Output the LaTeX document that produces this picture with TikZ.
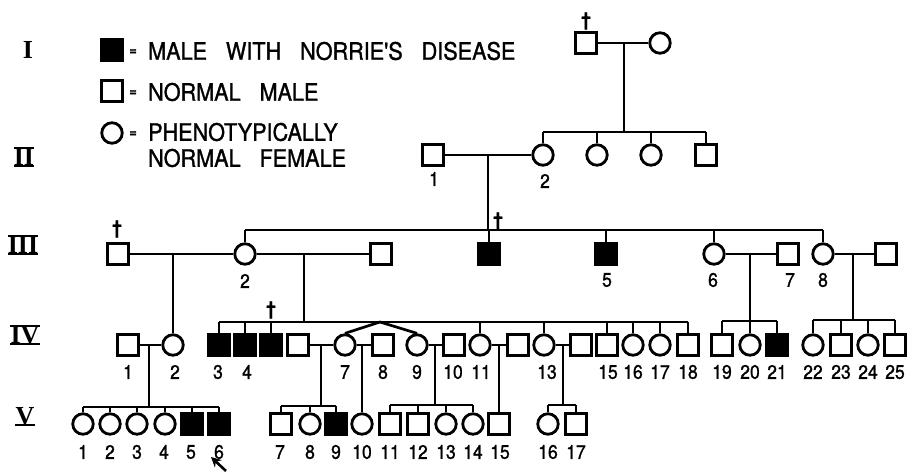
\documentclass[tikz,border=0pt]{standalone}
\usepackage{fontspec}
\setmainfont{TeX Gyre Heros}
\newfontfamily\letr{TeX Gyre Heros}[FakeStretch=0.9,FakeBold=1.2]
\newfontfamily\romn{Liberation Serif}
\usetikzlibrary{arrows.meta}
\begin{document}
\begin{tikzpicture}[x=1pt,y=-1pt,
  ln/.style={line width=2.7pt},
  bar/.style={line width=2.4pt},
  male/.style={draw,rectangle,line width=2.8pt,minimum size=20.5pt,inner sep=0pt},
  aff/.style={male,fill=black},
  fem/.style={draw,circle,line width=2.8pt,minimum size=20.5pt,inner sep=0pt},
  lab/.style={font=\letr\fontsize{19.5}{19.5}\selectfont,inner sep=0pt},
  leg/.style={font={\letr\fontsize{24}{28}\selectfont\spaceskip=19pt plus 2pt},inner sep=0pt,anchor=west},
  eq/.style={font=\letr\bfseries\fontsize{14}{14}\selectfont,inner sep=0pt},
  gen/.style={font=\romn\bfseries\fontsize{26}{26}\selectfont,inner sep=0pt},
  dag/.style={font=\letr\bfseries\fontsize{19}{19}\selectfont,inner sep=0pt}]
\fill[white] (0,0) rectangle (915,471);
\useasboundingbox (0,0) rectangle (915,471);

% generation numerals
\node[gen] (gI) at (28,50) {I};
\node[gen] (gII) at (24,157) {II};
\node[gen] (gIII) at (23,245) {III};
\node[gen] (gIV) at (25,335) {IV};
\node[gen] (gV) at (25,416) {V};
\foreach \g in {gII,gIII,gIV} {
  \draw[bar] (\g.north west) -- (\g.north east);
  \draw[bar] (\g.south west) -- (\g.south east);
}
\draw[bar] (gV.south west) -- (gV.south east);

% legend
\node[aff] (k1) at (112,50) {};
\node[eq] (e1) at (133,52) {=};
\node[leg] (t1) at (148,51) {MALE WITH NORRIE'S DISEASE};
\node[male] (k2) at (112,91) {};
\node[eq] (e2) at (133,93) {=};
\node[leg] (t2) at (148,92) {NORMAL MALE};
\node[fem] (k3) at (112,133) {};
\node[eq] (e3) at (133,134) {=};
\node[leg] (t3) at (148,132) {PHENOTYPICALLY};
\node[leg] (t4) at (148,158) {NORMAL FEMALE};

% generation I
\node[male] (I1) at (586,43) {};
\node[dag] (dI1) at (586,21) {†};
\node[fem] (I2) at (660,43) {};
\draw[ln] (I1) -- (I2);
\coordinate (mI) at (624,43);
\coordinate (sI) at (624,132);
\draw[ln] (mI) -- (sI);

% generation II
\node[male] (II1) at (433,155) {};
\node[fem] (II2) at (543,155) {};
\node[fem] (II3) at (597,155) {};
\node[fem] (II4) at (651,155) {};
\node[male] (II5) at (706,155) {};
\draw[ln] (II2.north |- sI) -- (II5.north |- sI);
\foreach \n in {II2,II3,II4,II5} \draw[ln] (\n.north |- sI) -- (\n.north);
\draw[ln] (II1) -- (II2);
\node[lab] (lII1) at (434,179) {1};
\node[lab] (lII2) at (545,181) {2};
\coordinate (mII) at (488,155);
\coordinate (sII) at (488,230);
\draw[ln] (mII) -- (sII);

% generation III
\node[male] (III1) at (118,254) {};
\node[dag] (dIII1) at (117,229) {†};
\node[fem] (III2) at (245,254) {};
\node[male] (III3) at (381,254) {};
\node[aff] (III4) at (489,254) {};
\node[dag] (dIII4) at (498,221) {†};
\node[aff] (III5) at (606,254) {};
\node[fem] (III6) at (714,254) {};
\node[male] (III7) at (788,254) {};
\node[fem] (III8) at (823,254) {};
\node[male] (III9) at (886,254) {};
\draw[ln] (III2.north |- sII) -- (III8.north |- sII);
\foreach \n in {III2,III4,III5,III6,III8} \draw[ln] (\n.north |- sII) -- (\n.north);
\draw[ln] (III1) -- (III2);
\draw[ln] (III2) -- (III3);
\draw[ln] (III6) -- (III7);
\draw[ln] (III8) -- (III9);
\node[lab] (lIII2) at (245,281) {2};
\node[lab] (lIII5) at (607,280) {5};
\node[lab] (lIII6) at (713,280) {6};
\node[lab] (lIII7) at (790,280) {7};
\node[lab] (lIII8) at (823,280) {8};

% generation IV
\node[male] (IV1) at (128,345) {};
\node[fem] (IV2) at (173,345) {};
\node[aff] (IV3) at (219,345) {};
\node[aff] (IV4) at (245,345) {};
\node[aff] (IV5) at (271,345) {};
\node[dag] (dIV5) at (271,310) {†};
\node[male] (IV6) at (298,345) {};
\node[fem] (IV7) at (345,345) {};
\node[male] (IV8) at (383,345) {};
\node[fem] (IV9) at (417,345) {};
\node[male] (IV10) at (454,345) {};
\node[fem] (IV11) at (480,345) {};
\node[male] (IV12) at (518,345) {};
\node[fem] (IV13) at (544,345) {};
\node[male] (IV14) at (581,345) {};
\node[male] (IV15) at (607,345) {};
\node[fem] (IV16) at (633,345) {};
\node[fem] (IV17) at (660,345) {};
\node[male] (IV18) at (688,345) {};
\node[male] (IV19) at (722,345) {};
\node[fem] (IV20) at (750,345) {};
\node[aff] (IV21) at (777,345) {};
\node[fem] (IV22) at (813,345) {};
\node[male] (IV23) at (841,345) {};
\node[fem] (IV24) at (868,345) {};
\node[male] (IV25) at (895,345) {};

% descents from generation III
\coordinate (m12) at (173,254);
\draw[ln] (m12) -- (IV2.north);
\coordinate (m23) at (304,254);
\coordinate (sIV) at (304,322);
\draw[ln] (m23) -- (sIV);
\draw[ln] (IV3.north |- sIV) -- (IV18.north |- sIV);
\foreach \n in {IV3,IV4,IV5,IV11,IV13,IV15,IV16,IV17,IV18} \draw[ln] (\n.north |- sIV) -- (\n.north);
\coordinate (tw) at (380,322);
\draw[ln] (IV7.north) -- (tw) -- (IV9.north);
\coordinate (m67) at (750,254);
\coordinate (s67) at (750,321);
\draw[ln] (m67) -- (s67);
\draw[ln] (IV19.north |- s67) -- (IV21.north |- s67);
\foreach \n in {IV19,IV20,IV21} \draw[ln] (\n.north |- s67) -- (\n.north);
\coordinate (m89) at (853,254);
\coordinate (s89) at (853,320);
\draw[ln] (m89) -- (s89);
\draw[ln] (IV22.north |- s89) -- (IV25.north |- s89);
\foreach \n in {IV22,IV23,IV24,IV25} \draw[ln] (\n.north |- s89) -- (\n.north);

% marriages in generation IV
\draw[ln] (IV1) -- (IV2);
\draw[ln] (IV6) -- (IV7);
\draw[ln] (IV7) -- (IV8);
\draw[ln] (IV9) -- (IV10);
\draw[ln] (IV11) -- (IV12);
\draw[ln] (IV13) -- (IV14);

\foreach \x/\t in {128/1,175/2,218/3,247/4,345/7,383/8,417/9,453/10,481/11,547/13,608/15,633/16,660/17,688/18,722/19,750/20,777/21,813/22,841/23,868/24,895/25}
  \node[lab] (lIV\t) at (\x,372) {\t};

% generation V
\node[fem] (V1) at (83,424) {};
\node[fem] (V2) at (110,424) {};
\node[fem] (V3) at (137,424) {};
\node[fem] (V4) at (165,424) {};
\node[aff] (V5) at (192,424) {};
\node[aff] (V6) at (219,424) {};
\node[male] (V7) at (281,424) {};
\node[fem] (V8) at (310,424) {};
\node[aff] (V9) at (336,424) {};
\node[fem] (V10) at (362,424) {};
\node[male] (V11) at (390,424) {};
\node[male] (V12) at (418,424) {};
\node[fem] (V13) at (446,424) {};
\node[fem] (V14) at (473,424) {};
\node[male] (V15) at (499,424) {};
\node[fem] (V16) at (548,424) {};
\node[male] (V17) at (576,424) {};

\coordinate (mIV12) at (149,345);
\coordinate (sV1) at (149,407);
\draw[ln] (mIV12) -- (sV1);
\draw[ln] (V1.north |- sV1) -- (V6.north |- sV1);
\foreach \n in {V1,V2,V3,V4,V5,V6} \draw[ln] (\n.north |- sV1) -- (\n.north);

\coordinate (m4667) at (321,345);
\coordinate (sV7) at (321,406);
\draw[ln] (m4667) -- (sV7);
\draw[ln] (V7.north |- sV7) -- (V9.north |- sV7);
\foreach \n in {V7,V8,V9} \draw[ln] (\n.north |- sV7) -- (\n.north);

\coordinate (m78) at (362,345);
\draw[ln] (m78) -- (V10.north);

\coordinate (m910) at (435,345);
\coordinate (sV11) at (435,405);
\draw[ln] (m910) -- (sV11);
\draw[ln] (V11.north |- sV11) -- (V14.north |- sV11);
\foreach \n in {V11,V12,V13,V14} \draw[ln] (\n.north |- sV11) -- (\n.north);

\coordinate (m1112) at (499,345);
\draw[ln] (m1112) -- (V15.north);

\coordinate (m1314) at (563,345);
\coordinate (sV16) at (563,405);
\draw[ln] (m1314) -- (sV16);
\draw[ln] (V16.north |- sV16) -- (V17.north |- sV16);
\foreach \n in {V16,V17} \draw[ln] (\n.north |- sV16) -- (\n.north);

\foreach \x/\t in {83/1,110/2,137/3,164/4,191/5,219/6,280/7,310/8,336/9,362/10,390/11,418/12,446/13,473/14,500/15,548/16,576/17}
  \node[lab] (lV\t) at (\x,452) {\t};

% proband arrow
\coordinate (arT) at (226,471);
\coordinate (arH) at (211,457);
\draw[line width=2.6pt,-{Stealth[length=10pt,width=10pt]}] (arT) -- (arH);
\end{tikzpicture}
\end{document}
